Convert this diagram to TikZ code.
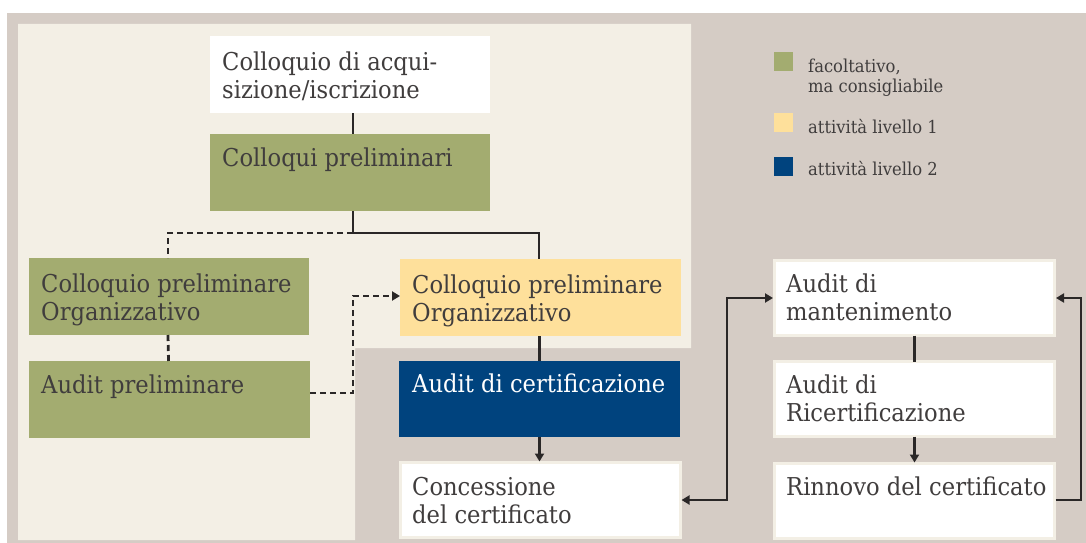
\documentclass[tikz,border=0pt]{standalone}
\usepackage{fontspec}
\setmainfont{DejaVu Serif}[FakeStretch=0.92]
\usetikzlibrary{arrows.meta}
\definecolor{bggray}{HTML}{D5CCC5}
\definecolor{cream}{HTML}{F3EFE5}
\definecolor{boxgreen}{HTML}{A3AC70}
\definecolor{boxyellow}{HTML}{FEE09B}
\definecolor{boxblue}{HTML}{00437E}
\definecolor{txtgray}{HTML}{403D3D}
\definecolor{linecol}{HTML}{2A2727}
\tikzset{
  box/.style={rectangle, inner sep=0pt, outer sep=0pt, anchor=north west},
  greenbox/.style={box, fill=boxgreen},
  yellowbox/.style={box, fill=boxyellow},
  bluebox/.style={box, fill=boxblue},
  whitebox/.style={box, fill=white, draw=cream, line width=2.5pt},
  lbl/.style={anchor=north west, inner sep=0pt, align=left, text=txtgray,
    font=\fontsize{24.6}{28.5}\selectfont},
  leglbl/.style={anchor=north west, inner sep=0pt, align=left, text=txtgray,
    font=\fontsize{17.8}{20}\selectfont},
  conn/.style={draw=linecol, line width=2.8pt},
  dconn/.style={conn, dash pattern=on 6pt off 4pt},
  tip/.style={-{Triangle[length=8pt,width=9pt]}},
  legsq/.style={rectangle, inner sep=0pt, outer sep=0pt, minimum width=19pt, minimum height=19pt, anchor=north west},
}
\newcommand{\stt}[1]{\rule{0pt}{#1pt}}
\begin{document}
\begin{tikzpicture}[x=1pt,y=-1pt]
\useasboundingbox (0,0) rectangle (1086,543);
\fill[bggray] (7,13) rectangle (1086,543);
\fill[cream] (18,24) -- (691,24) -- (691,348) -- (355,348) -- (355,540) -- (18,540) -- cycle;

% boxes
\node[box, fill=white, minimum width=280pt, minimum height=77pt] (acq) at (210,36) {};
\node[greenbox, minimum width=280pt, minimum height=77pt] (cp) at (210,134) {};
\node[greenbox, minimum width=280pt, minimum height=77pt] (lcp) at (29,258) {};
\node[greenbox, minimum width=281pt, minimum height=77pt] (ap) at (29,361) {};
\node[yellowbox, minimum width=281pt, minimum height=77pt] (yel) at (400,259) {};
\node[bluebox, minimum width=281pt, minimum height=76pt] (blu) at (399,361) {};
\node[whitebox, minimum width=280pt, minimum height=75pt] (con) at (400.5,462.5) {};
\node[whitebox, minimum width=280pt, minimum height=75pt] (mant) at (774.5,260.5) {};
\node[whitebox, minimum width=280pt, minimum height=75pt] (ric) at (774.5,361.5) {};
\node[whitebox, minimum width=280pt, minimum height=75pt] (rin) at (774.5,463.5) {};

% labels
\node[lbl] (acqt) at (222,36) {\stt{34}Colloquio di acqui-\\sizione/iscrizione};
\node[lbl] (cpt) at (222,134) {\stt{32}Colloqui preliminari};
\node[lbl] (lcpt) at (41,258) {\stt{34}Colloquio preliminare\\Organizzativo};
\node[lbl] (apt) at (41,361) {\stt{32}Audit preliminare};
\node[lbl] (yelt) at (412,259) {\stt{34}Colloquio preliminare\\Organizzativo};
\node[lbl, text=white] (blut) at (412,361) {\stt{31}Audit di certificazione};
\node[lbl] (cont) at (412,461) {\stt{34}Concessione\\del certificato};
\node[lbl] (mantt) at (786,259) {\stt{33}Audit di\\mantenimento};
\node[lbl] (rict) at (786,360) {\stt{33}Audit di\\Ricertificazione};
\node[lbl] (rint) at (786,462) {\stt{33}Rinnovo del certificato};

% connectors
\coordinate (j1) at (353,233);
\coordinate (k1) at (353,393);
\coordinate (l1) at (727,500);
\coordinate (r1) at (1081,500);
\draw[conn] ([xshift=3pt]acq.south) -- ([xshift=3pt]cp.north);
\draw[conn] ([xshift=3pt]cp.south) -- (j1) -| ([xshift=-1.5pt]yel.north);
\draw[dconn] (j1) -| ([xshift=-1pt]lcp.north);
\draw[dconn] ([xshift=-1pt]lcp.south) -- ([xshift=-1pt]ap.north);
\draw[dconn, tip] ([yshift=6.5pt]ap.east) -- (k1) |- ([yshift=1.5pt]yel.west);
\draw[conn] ([xshift=-1pt]yel.south) -- ([xshift=-1pt]yel.south |- blu.north);
\draw[conn, tip] (blu.south) -- ([yshift=1pt]blu.south |- con.north);
\draw[conn, {Triangle[length=8pt,width=9pt]}-{Triangle[length=8pt,width=9pt]}] ([xshift=1pt]con.east |- l1) -- (l1) |- ([xshift=-1.5pt]mant.west);
\draw[conn] (mant.south) -- (ric.north);
\draw[conn, tip] (ric.south) -- ([yshift=1pt]rin.north);
\draw[conn, tip] ([xshift=1pt]rin.east |- r1) -- (r1) |- ([xshift=1.5pt]mant.east);

% legend
\node[legsq, fill=boxgreen] (lg1) at (774,52) {};
\node[legsq, fill=boxyellow] (lg2) at (774,113) {};
\node[legsq, fill=boxblue] (lg3) at (774,157) {};
\node[leglbl] (lg1t) at (808,52) {\stt{20}facoltativo,\\ma consigliabile};
\node[leglbl] (lg2t) at (808,113) {\stt{20}attività livello 1};
\node[leglbl] (lg3t) at (808,157) {\stt{18}attività livello 2};
\end{tikzpicture}
\end{document}
